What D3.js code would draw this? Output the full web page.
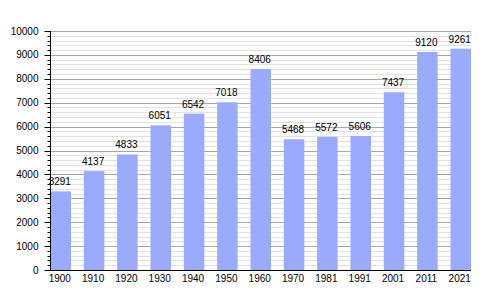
<!DOCTYPE html>
<html lang="en">
<head>
    <meta charset="UTF-8">
    <title>Population</title>
    <script type="text/javascript" src="https://cdn.jsdelivr.net/npm/d3@7/dist/d3.min.js"></script>
    <style>
        body { margin: 0; background: #fff; }
        text { font-family: "Liberation Sans", Arial, sans-serif; font-size: 10px; fill: #000; }
    </style>
</head>
<body>
<script type="text/javascript">
    let width = 500, height = 300;

    let years = ['1900', '1910', '1920', '1930', '1940', '1950', '1960', '1970', '1981', '1991', '2001', '2011', '2021'];
    let population = [3291, 4137, 4833, 6051, 6542, 7018, 8406, 5468, 5572, 5606, 7437, 9120, 9261];
    let yTicks = [0, 1000, 2000, 3000, 4000, 5000, 6000, 7000, 8000, 9000, 10000];

    let svg = d3.select('body').append('svg')
        .attr('width', width)
        .attr('height', height);

    // 比例尺
    let x = d3.scaleBand()
        .domain(years)
        .range([50.5, 50.5 + 13 * 33.33])
        .padding(0);
    let barW = 20.5;
    let y = d3.scaleLinear()
        .domain([0, 10000])
        .range([270, 31]);
    let left = 50, right = 471;

    // 网格线: 次要每200，主要每1000
    let minor = d3.range(200, 10001, 200).filter(v => v % 1000 !== 0);
    svg.append('g').selectAll('line')
        .data(minor)
        .enter()
        .append('line')
        .attr('x1', left).attr('x2', right)
        .attr('y1', d => Math.round(y(d)) + 0.5)
        .attr('y2', d => Math.round(y(d)) + 0.5)
        .attr('stroke', '#e2e2e2');
    svg.append('g').selectAll('line')
        .data(yTicks.slice(1))
        .enter()
        .append('line')
        .attr('x1', left).attr('x2', right)
        .attr('y1', d => Math.round(y(d)) + 0.5)
        .attr('y2', d => Math.round(y(d)) + 0.5)
        .attr('stroke', '#a8a8a8');

    // 柱子
    svg.append('g').selectAll('rect')
        .data(population)
        .enter()
        .append('rect')
        .attr('x', (d, i) => x(years[i]))
        .attr('y', d => y(d))
        .attr('width', barW)
        .attr('height', d => y(0) - y(d))
        .attr('fill', '#99aaff');

    // 数值标签
    svg.append('g').selectAll('text')
        .data(population)
        .enter()
        .append('text')
        .attr('x', (d, i) => x(years[i]) + barW / 2 - 1)
        .attr('y', d => y(d) - 6)
        .attr('text-anchor', 'middle')
        .text(d => d);

    // y轴
    let yAxis = svg.append('g').attr('transform', 'translate(' + (left + 0.5) + ',0)');
    yAxis.append('line')
        .attr('x1', 0).attr('x2', 0)
        .attr('y1', y(10000)).attr('y2', y(0))
        .attr('stroke', '#000');
    yAxis.selectAll('.minor')
        .data(minor)
        .enter()
        .append('line')
        .attr('x1', -3).attr('x2', 0)
        .attr('y1', d => Math.round(y(d)) + 0.5)
        .attr('y2', d => Math.round(y(d)) + 0.5)
        .attr('stroke', '#000');
    yAxis.selectAll('.major')
        .data(yTicks)
        .enter()
        .append('line')
        .attr('x1', -6).attr('x2', 0)
        .attr('y1', d => Math.round(y(d)) + 0.5)
        .attr('y2', d => Math.round(y(d)) + 0.5)
        .attr('stroke', '#000');
    yAxis.selectAll('text')
        .data(yTicks)
        .enter()
        .append('text')
        .attr('x', -12)
        .attr('y', d => y(d) + 3.5)
        .attr('text-anchor', 'end')
        .text(d => d);

    // x轴
    svg.append('line')
        .attr('x1', left).attr('x2', right)
        .attr('y1', 270.5).attr('y2', 270.5)
        .attr('stroke', '#000');
    svg.append('g').selectAll('text')
        .data(years)
        .enter()
        .append('text')
        .attr('x', d => x(d) + barW / 2 - 1)
        .attr('y', 282)
        .attr('text-anchor', 'middle')
        .text(d => d);
</script>
</body>
</html>
